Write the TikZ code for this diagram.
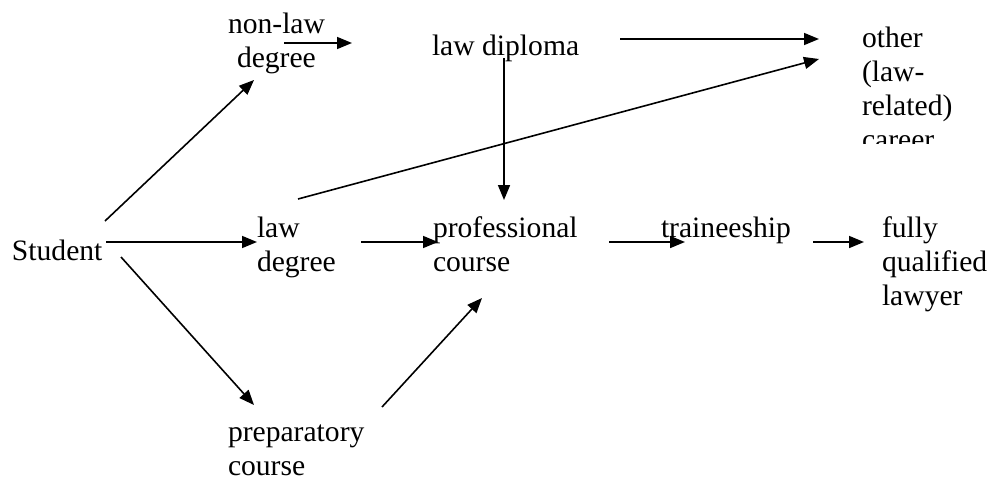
\documentclass[tikz,border=0pt]{standalone}
\usepackage{fontspec}
\setmainfont{Liberation Serif}
\usetikzlibrary{arrows.meta}
\begin{document}
\begin{tikzpicture}[x=1pt,y=-1pt,
  lbl/.style={anchor=base west, inner sep=0pt, outer sep=0pt, align=left,
    font=\fontsize{29.6}{34}\selectfont},
  flow/.style={line width=1.6pt, -{Triangle[length=15pt,width=12pt]}}]
\useasboundingbox (0,0) rectangle (992,479);

% text labels (positioned at last-line baselines)
\node[lbl] (nonlaw) at (228,67) {non-law\\\hspace*{9pt}degree};
\node[lbl] (diploma) at (432,55) {law diploma};
\begin{scope}
  \clip (850,0) rectangle (992,143);
  \node[lbl] (career) at (862,149) {other\\(law-\\related)\\career};
\end{scope}
\node[lbl] (student) at (12,260) {Student};
\node[lbl] (lawdeg) at (257,271) {law\\degree};
\node[lbl] (prof) at (433,271) {professional\\course};
\node[lbl] (train) at (661,237) {traineeship};
\node[lbl] (lawyer) at (882,305) {fully\\qualified\\lawyer};
\node[lbl] (prep) at (228,475) {preparatory\\course};

% free arrow ends
\coordinate (s1a) at (105,221);  \coordinate (s1b) at (254,80);
\coordinate (s2a) at (106,242);  \coordinate (s2b) at (257,242);
\coordinate (s3a) at (121,257);  \coordinate (s3b) at (254,405);
\coordinate (n1a) at (284,43);   \coordinate (n1b) at (352,43);
\coordinate (d1a) at (620,39);   \coordinate (d1b) at (819,39);
\coordinate (d2a) at (504,58);   \coordinate (d2b) at (504,200);
\coordinate (l1a) at (298,199);  \coordinate (l1b) at (819,59);
\coordinate (l2a) at (361,242);  \coordinate (l2b) at (438,242);
\coordinate (p1a) at (382,407);  \coordinate (p1b) at (482,298);
\coordinate (c1a) at (609,242);  \coordinate (c1b) at (685,242);
\coordinate (t1a) at (813,242);  \coordinate (t1b) at (864,242);

% connectors
\draw[flow] (s1a) -- (s1b);
\draw[flow] (s2a) -- (s2b);
\draw[flow] (s3a) -- (s3b);
\draw[flow] (n1a) -- (n1b);
\draw[flow] (d1a) -- (d1b);
\draw[flow] (d2a) -- (d2b);
\draw[flow] (l1a) -- (l1b);
\draw[flow] (l2a) -- (l2b);
\draw[flow] (p1a) -- (p1b);
\draw[flow] (c1a) -- (c1b);
\draw[flow] (t1a) -- (t1b);
\end{tikzpicture}
\end{document}
